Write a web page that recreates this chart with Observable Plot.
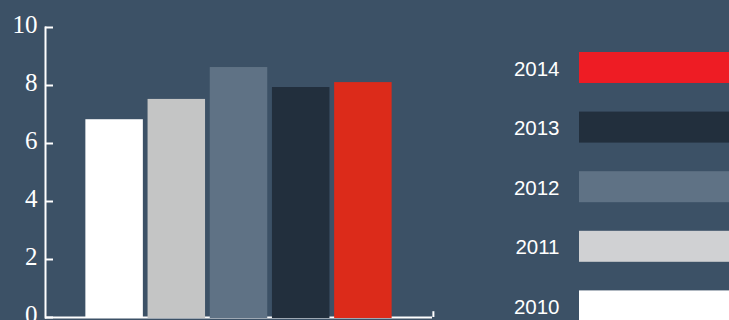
<!DOCTYPE html>
<html>
<head>
<meta charset="utf-8">
<script src="https://cdn.jsdelivr.net/npm/d3@7"></script>
<script src="https://cdn.jsdelivr.net/npm/@observablehq/plot@0.6"></script>
<style>
  html, body { margin: 0; padding: 0; background: #3c5166; }
  #wrap { position: relative; width: 729px; height: 320px; overflow: hidden; background: #3c5166; }
  #wrap > svg, #wrap > figure { position: absolute; top: 0; margin: 0; }
</style>
</head>
<body>
<div id="wrap"></div>
<script>
const years = ["2010", "2011", "2012", "2013", "2014"];
const values = [6.82, 7.52, 8.62, 7.93, 8.1];
const barColors = ["#ffffff", "#c4c5c5", "#5f7285", "#222f3d", "#dc2b1a"];
const legendYears = ["2014", "2013", "2012", "2011", "2010"];
const legendColors = ["#ee1c24", "#222f3d", "#5f7285", "#d0d1d3", "#ffffff"];
const yTicks = [0, 2, 4, 6, 8, 10];

const data = years.map((year, i) => ({year, value: values[i], color: barColors[i]}));
const legendData = legendYears.map((year, i) => ({year, color: legendColors[i]}));

const chart = Plot.plot({
  width: 729,
  height: 320,
  marginLeft: 45,
  marginRight: 297,
  marginTop: 27,
  marginBottom: 3,
  style: {background: "transparent", color: "white", overflow: "visible"},
  x: {type: "band", domain: years, paddingInner: 0.0756, paddingOuter: 0.649, round: false, axis: null},
  y: {domain: [0, 10], axis: null},
  marks: [
    Plot.ruleY([0], {stroke: "white", strokeWidth: 2}),
    Plot.barY(data, {x: "year", y: "value", fill: "color", insetBottom: -1}),
    Plot.frame({anchor: "left", stroke: "white", strokeWidth: 2}),
    Plot.ruleX([years[years.length - 1]], {x: d => d, y1: 0, y2: 0.2, dx: 70, stroke: "white", strokeWidth: 2}),
    Plot.axisY({ticks: yTicks, tickSize: 8, dx: 8, tickFormat: () => "", label: null, stroke: "white", strokeWidth: 2}),
    Plot.axisY({ticks: yTicks, tickSize: 0, tickPadding: 8, dy: -3, label: null, fill: "white",
      fontSize: 25, fontFamily: "'Liberation Serif', serif"})
  ]
});
chart.style.left = "0px";
document.getElementById("wrap").appendChild(chart);

const legend = Plot.plot({
  width: 239,
  height: 340,
  marginLeft: 89,
  marginRight: 0,
  marginTop: 52,
  marginBottom: 18.6,
  style: {background: "transparent", color: "white"},
  x: {domain: [0, 1], axis: null},
  y: {type: "band", domain: legendYears, paddingInner: 0.48, paddingOuter: 0, round: false, axis: null},
  marks: [
    Plot.barX(legendData, {y: "year", x1: 0, x2: 1, fill: "color"}),
    Plot.axisY({tickSize: 0, tickPadding: 20, dy: 1, label: null, fill: "white",
      fontSize: 20.5, fontFamily: "'Liberation Sans', Arial, sans-serif"})
  ]
});
legend.style.left = "490px";
document.getElementById("wrap").appendChild(legend);
</script>
</body>
</html>
